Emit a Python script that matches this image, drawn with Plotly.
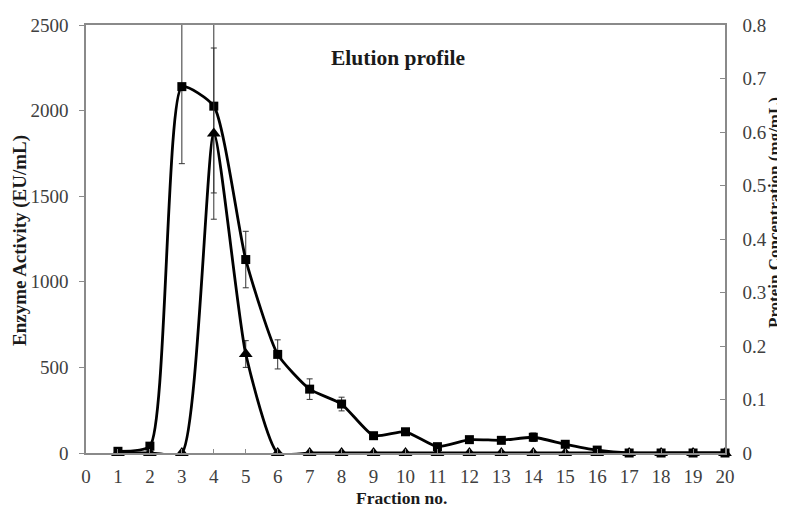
import plotly.graph_objects as go

fractions = list(range(1, 21))
# squares - enzyme activity (EU/mL), left axis
activity = [10, 40, 2140, 2026, 1130, 576, 373, 286, 101, 124, 37, 78, 74, 92, 51, 17, 0, 0, 0, 0]
activity_err = [0, 0, 450, 507, 165, 85, 60, 40, 0, 0, 0, 0, 0, 25, 0, 0, 0, 0, 0, 0]
# triangles - protein concentration (mg/mL), right axis
protein = [0, 0, 0, 0.597, 0.185, 0, 0, 0, 0, 0, 0, 0, 0, 0, 0, 0, 0, 0, 0, 0]
protein_err = [0, 0, 0, 0.16, 0.025, 0, 0, 0, 0, 0, 0, 0, 0, 0, 0, 0, 0, 0, 0, 0]

font = "Liberation Serif, Times New Roman, serif"
axcol = "#8a8a8a"

# the page body adds an 8px offset, so the figure is 8px smaller and starts at (8, 8)
OFF = 8
W, H = 785 - OFF, 507 - OFF
L, R, T, B = 86 - OFF, 60, 25 - OFF, 54
pw = W - L - R
ph = H - T - B


def px(x):
    return (x - OFF - L) / pw


def py(y):
    return 1 - (y - OFF - T) / ph


fig = go.Figure()

# error bars (clipped to plot area)
fig.add_trace(go.Scatter(x=fractions, y=activity, mode="markers", marker=dict(opacity=0),
                         error_y=dict(type="data", array=activity_err, color="#333", thickness=1, width=3),
                         showlegend=False, hoverinfo="skip"))
fig.add_trace(go.Scatter(x=fractions, y=protein, yaxis="y2", mode="markers", marker=dict(opacity=0),
                         error_y=dict(type="data", array=protein_err, color="#333", thickness=1, width=3),
                         showlegend=False, hoverinfo="skip"))

fig.add_trace(go.Scatter(x=fractions, y=protein, yaxis="y2", mode="lines+markers",
                         line=dict(color="black", width=2.8, shape="spline", smoothing=0.55),
                         marker=dict(symbol="triangle-up", size=12, color="black"),
                         cliponaxis=False, showlegend=False))
fig.add_trace(go.Scatter(x=fractions, y=activity, mode="lines+markers",
                         line=dict(color="black", width=2.8, shape="spline", smoothing=0.55),
                         marker=dict(symbol="square", size=9, color="black"),
                         cliponaxis=False, showlegend=False))

tickfont = dict(family=font, size=19, color="#404040")


def label(text, x, y, size, angle=0):
    return dict(text=text, x=px(x), y=py(y), xref="paper", yref="paper", xanchor="center",
                yanchor="middle", showarrow=False, textangle=angle,
                font=dict(family=font, size=size, color="#1a1a1a"))


fig.update_layout(
    width=W, height=H,
    margin=dict(l=L, r=R, t=T, b=B),
    plot_bgcolor="white", paper_bgcolor="white",
    xaxis=dict(range=[0, 20], tickmode="linear", tick0=0, dtick=1, showgrid=False, zeroline=False,
               showline=True, linecolor=axcol, linewidth=1.5, mirror=True, automargin=False,
               ticks="inside", ticklen=4, tickcolor=axcol, tickfont=tickfont, ticklabelstandoff=5),
    yaxis=dict(range=[0, 2500], tickmode="linear", tick0=0, dtick=500, showgrid=False, zeroline=False,
               showline=True, linecolor=axcol, linewidth=1.5, automargin=False,
               ticks="outside", ticklen=5, tickcolor=axcol, tickfont=tickfont, ticklabelstandoff=7),
    yaxis2=dict(range=[0, 0.8], tickmode="linear", tick0=0, dtick=0.1, overlaying="y", side="right",
                showgrid=False, zeroline=False, showline=True, linecolor=axcol, linewidth=1.5,
                automargin=False, ticks="inside", ticklen=5, tickcolor=axcol, tickfont=tickfont,
                tickformat="~g", ticklabelstandoff=12),
    annotations=[
        label("<b>Elution profile</b>", 398, 58, 21.5),
        label("<b>Fraction no.</b>", 401, 498, 17.5),
        label("<b>Enzyme Activity (EU/mL)</b>", 20, 241, 19, -90),
        label("<b>Protein Concentration (mg/mL)</b>", 775, 213, 17, -90),
    ],
)

fig.write_html("out.html")
